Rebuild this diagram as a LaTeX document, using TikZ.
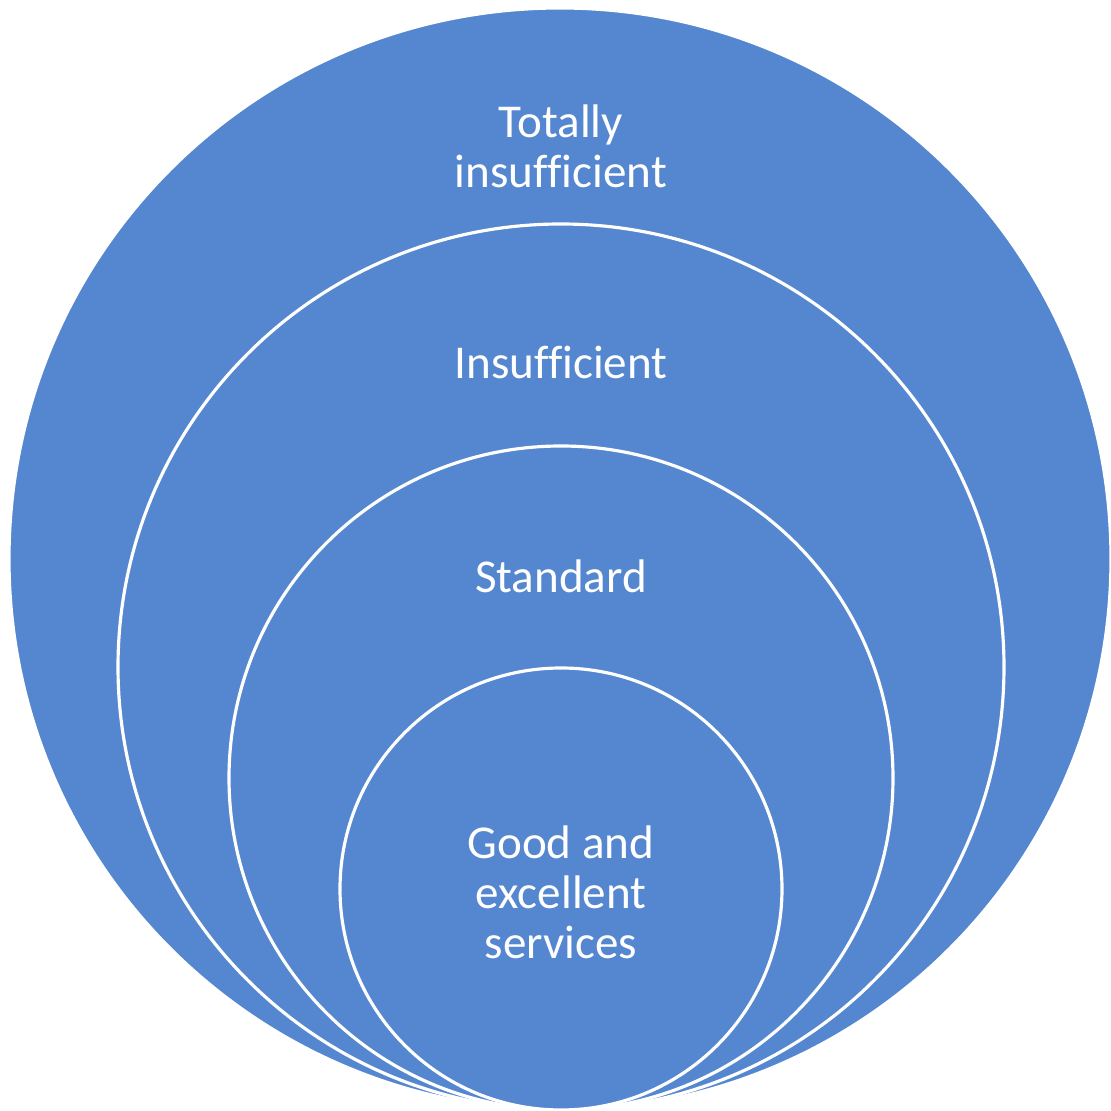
\documentclass[tikz,border=0pt]{standalone}
\usepackage{fontspec}
\setmainfont{Carlito}[Ligatures=CommonOff]
\definecolor{ringblue}{RGB}{85,135,208}
\tikzset{
ring/.style={draw=white,fill=ringblue,circle,line width=0.9pt,inner sep=0pt,outer sep=0pt},
ringtext/.style={text=white,align=center,font=\fontsize{13.4}{14.2}\selectfont,inner sep=0pt}
}
\begin{document}
\begin{tikzpicture}
\useasboundingbox (0,0) rectangle (11.10,11.11);

%Outer
\node[ring,minimum size=11.02cm
] (outer) at (5.60,5.52){};

%Second
\node[ring,minimum size=8.86cm
] (second) at (5.61,4.44){};

%Third
\node[ring,minimum size=6.64cm
] (third) at (5.61,3.33){};

%Inner
\node[ring,minimum size=4.42cm
] (inner) at (5.61,2.22){};


%Labels
\node[ringtext] (totally) at (5.61,9.65){Totally\\insufficient};
\node[ringtext] (insuff) at (5.61,7.485){Insufficient};
\node[ringtext] (standard) at (5.61,5.35){Standard};
\node[ringtext] (good) at (5.61,2.19){Good and\\excellent\\services};

\end{tikzpicture}
\end{document}
